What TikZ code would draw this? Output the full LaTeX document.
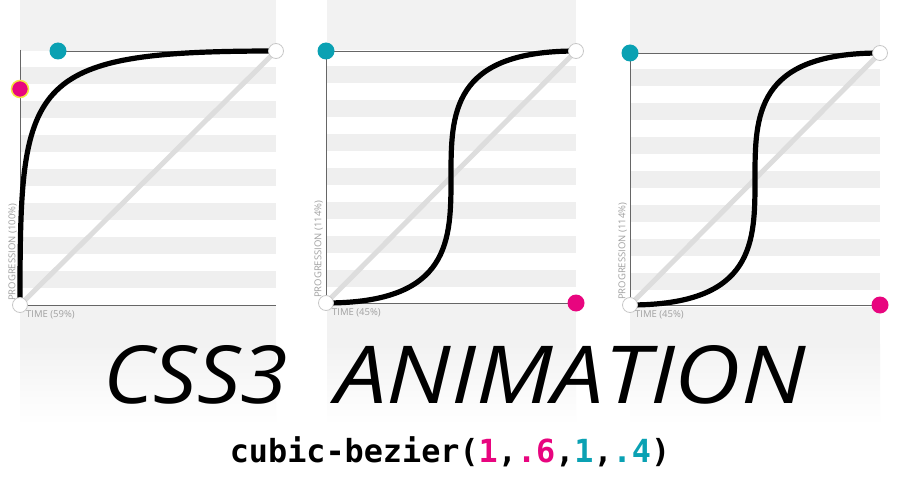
\documentclass[tikz,border=0pt]{standalone}
\usepackage{fontspec}
\usepackage{graphicx}
\setmainfont{Open Sans}
\newfontfamily\labfont{Open Sans}
\newfontfamily\titlefont{Open Sans}
\newfontfamily\codefont{DejaVu Sans Mono}
\definecolor{bgg}{HTML}{F2F2F2}
\definecolor{stripe}{HTML}{EFEFEF}
\definecolor{diagc}{HTML}{DDDDDD}
\definecolor{axisc}{HTML}{666666}
\definecolor{labc}{HTML}{A0A0A0}
\definecolor{mag}{HTML}{E8057F}
\definecolor{teal}{HTML}{0AA1B3}
\definecolor{ringc}{HTML}{C8C8C8}
\definecolor{yel}{HTML}{F2E640}
\tikzset{
  diag/.style={diagc, line width=5pt},
  axisline/.style={axisc, line width=0.9pt},
  curvel/.style={black, line width=5.2pt},
  endpt/.style={circle, fill=white, draw=ringc, line width=0.8pt, minimum size=15pt, inner sep=0},
  tealpt/.style={circle, fill=teal, minimum size=17pt, inner sep=0},
  magpt/.style={circle, fill=mag, minimum size=17pt, inner sep=0},
  lab/.style={font=\labfont\fontsize{9.5}{11}\selectfont, text=labc, inner sep=0},
}
\newcommand{\bgpanel}[3]{%
  \fill[bgg] (#1,0) rectangle (#2,345);
  \shade[top color=bgg, bottom color=white] (#1,344) rectangle (#2,425);
  \fill[white] (#1,{51+#3}) rectangle (#2,{305+#3});
  \foreach \k in {0,...,6}{\fill[stripe] (#1,{67+#3+34*\k}) rectangle (#2,{84+#3+34*\k});}
}
\begin{document}
\begin{tikzpicture}[x=1pt,y=-1pt]
\useasboundingbox (0,0) rectangle (900,500);
\fill[white] (0,0) rectangle (900,500);
\bgpanel{20}{276}{0}
\bgpanel{327}{576}{-1}
\bgpanel{630}{880}{2}

% ---- panel 1
\coordinate (O1) at (20,305);
\coordinate (E1) at (276,51);
\coordinate (M1) at (20,89);
\coordinate (T1) at (58,51);
\coordinate (A1) at (20,50);
\coordinate (X1) at (276,305);
\draw[diag] (O1) -- (E1);
\draw[axisline] (A1) -- (O1) -- (X1);
\draw[axisline] (T1) -- (E1);
\draw[curvel] (O1) .. controls (20,80) and (24,51) .. (E1);
\node[endpt] (o1) at (O1) {};
\node[endpt] (e1) at (E1) {};
\node[tealpt] (t1) at (T1) {};
\node[magpt, draw=yel, line width=1.5pt] (m1) at (M1) {};
\node[lab, rotate=90, anchor=south west] (pl1) at (17,301) {PROGRESSION (100\%)};
\node[lab, anchor=west] (tl1) at (26,315) {TIME (59\%)};

% ---- panel 2
\coordinate (O2) at (326,303);
\coordinate (E2) at (576,51);
\coordinate (M2) at (576,303);
\coordinate (T2) at (326,51);
\draw[diag] (O2) -- (E2);
\draw[axisline] (T2) -- (O2) -- (M2);
\draw[axisline] (T2) -- (E2);
\draw[curvel] (O2) .. controls (M2) and (T2) .. (E2);
\node[endpt] (o2) at (O2) {};
\node[endpt] (e2) at (E2) {};
\node[tealpt] (t2) at (T2) {};
\node[magpt] (m2) at (M2) {};
\node[lab, rotate=90, anchor=south west] (pl2) at (323,298) {PROGRESSION (114\%)};
\node[lab, anchor=west] (tl2) at (332,313) {TIME (45\%)};

% ---- panel 3
\coordinate (O3) at (630,305);
\coordinate (E3) at (880,53);
\coordinate (M3) at (880,305);
\coordinate (T3) at (630,53);
\draw[diag] (O3) -- (E3);
\draw[axisline] (T3) -- (O3) -- (M3);
\draw[axisline] (T3) -- (E3);
\draw[curvel] (O3) .. controls (M3) and (T3) .. (E3);
\node[endpt] (o3) at (O3) {};
\node[endpt] (e3) at (E3) {};
\node[tealpt] (t3) at (T3) {};
\node[magpt] (m3) at (M3) {};
\node[lab, rotate=90, anchor=south west] (pl3) at (627,300) {PROGRESSION (114\%)};
\node[lab, anchor=west] (tl3) at (635,315) {TIME (45\%)};

% ---- title
\node[anchor=base west, inner sep=0] (css) at (103,403) {\resizebox{185pt}{58pt}{\titlefont\itshape CSS3}};
\node[anchor=base west, inner sep=0] (anim) at (335,403) {\resizebox{470pt}{58pt}{\titlefont\itshape ANIMATION}};
\node[anchor=base, inner sep=0] (code) at (450,462) {\codefont\bfseries\fontsize{31.8}{36}\selectfont cubic-bezier(\textcolor{mag}{1},\textcolor{mag}{.6},\textcolor{teal}{1},\textcolor{teal}{.4})};
\end{tikzpicture}
\end{document}
